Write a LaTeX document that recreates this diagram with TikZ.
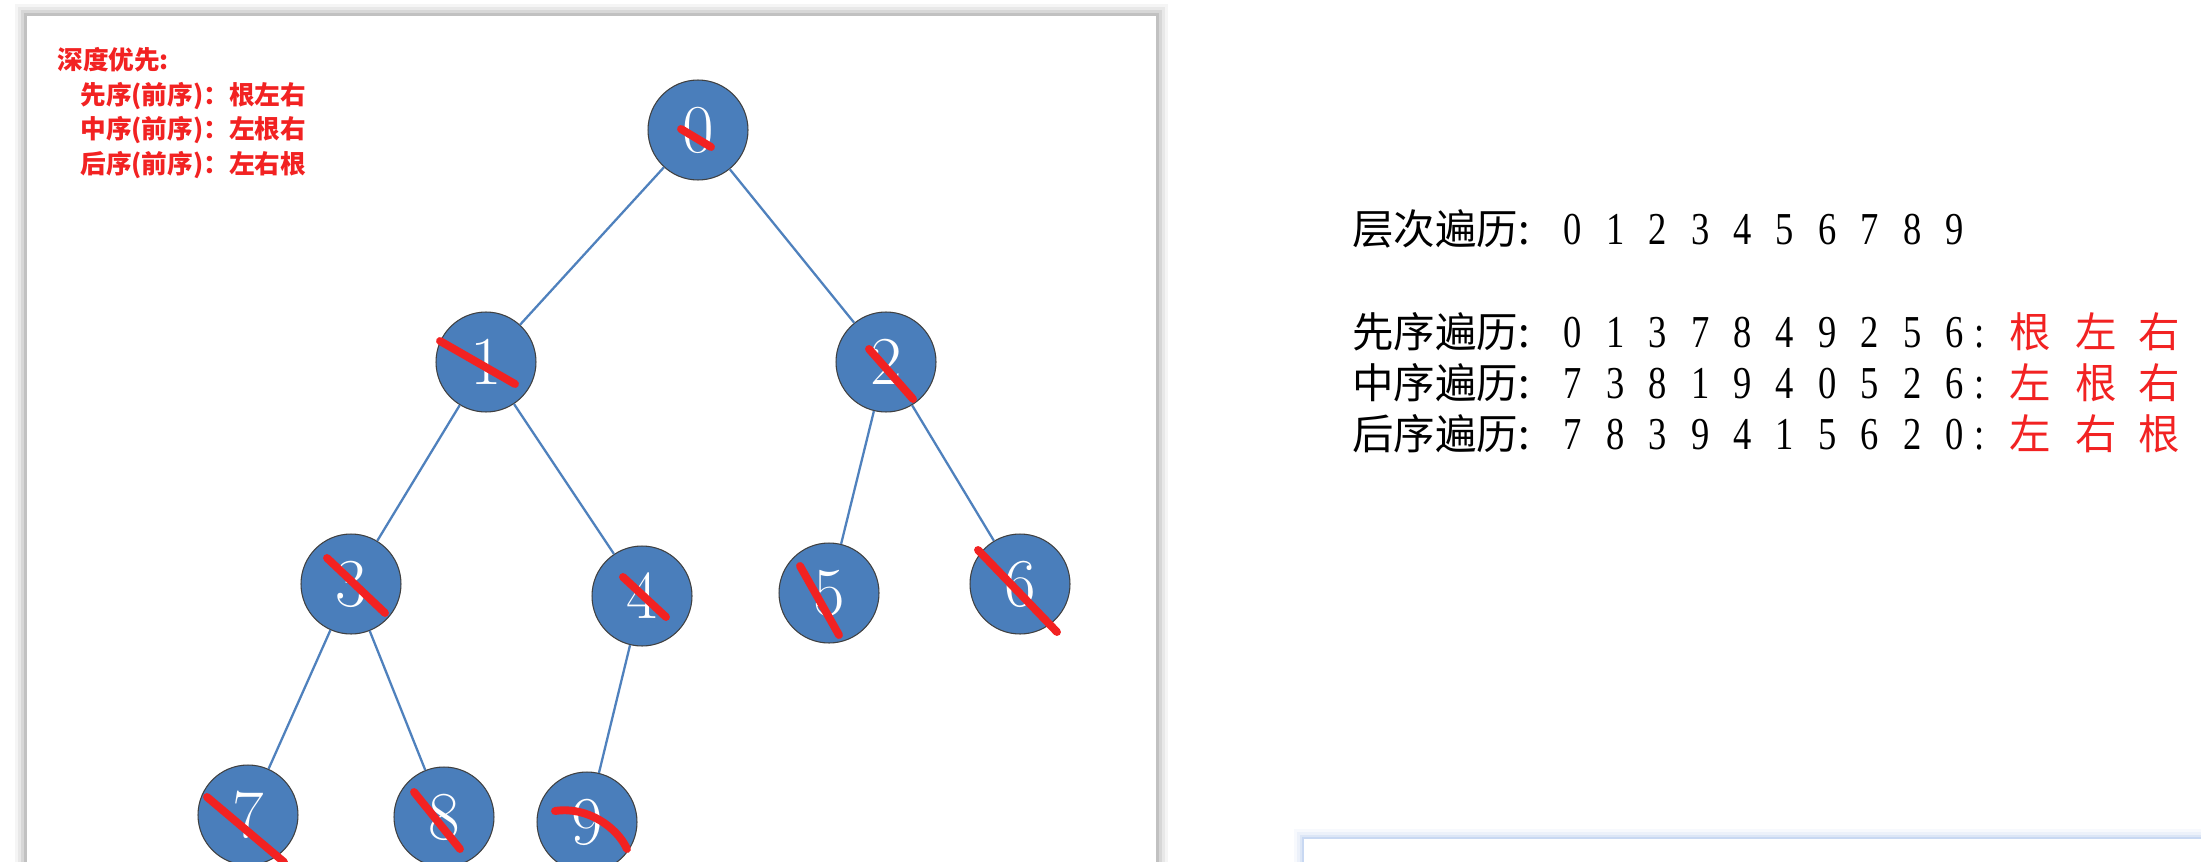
\documentclass[tikz,border=0pt]{standalone}
\usepackage{fontspec}
\newfontfamily\cjk{Noto Sans CJK SC}
\newfontfamily\digitfont[FakeStretch=0.8]{Liberation Serif}
\usetikzlibrary{calc}
\definecolor{nodeblue}{HTML}{4A7EBB}
\definecolor{edgeblue}{HTML}{4F81BD}
\definecolor{markred}{HTML}{F22222}
\definecolor{glowblue}{HTML}{6F9BE0}

\begin{document}
\begin{tikzpicture}[x=0.02cm, y=-0.02cm,
    vertex/.style={circle, draw=black!75, line width=0.6pt, fill=nodeblue, minimum size=2cm,
                   inner sep=0pt, text=white, font=\fontsize{39}{39}\selectfont},
    edge/.style={draw=edgeblue, line width=1.3pt},
    strike/.style={draw=markred, line width=4.5pt, line cap=round},
    note/.style={anchor=west, inner sep=0pt, text=markred, font=\cjk\bfseries\fontsize{14.6}{16}\selectfont},
    rowlabel/.style={anchor=base west, inner sep=0pt, font=\cjk\fontsize{23.6}{26}\selectfont},
    digit/.style={anchor=base, inner sep=0pt, font=\digitfont\fontsize{26}{28}\selectfont},
    order/.style={anchor=base, inner sep=0pt, text=markred, font=\cjk\fontsize{23.6}{26}\selectfont}]
  \clip (0,0) rectangle (2201,862);
  \fill[white] (0,0) rectangle (2201,862);

  % --- slide panel with soft shadow ---
  \foreach \d/\o in {12/0.04, 9/0.05, 6/0.07, 3/0.10}
    \fill[black, opacity=\o] (27-\d,16-\d) rectangle (1156+\d,880);
  \fill[white] (27,16) rectangle (1156,880);

  % --- box at bottom right ---
  \foreach \d/\o in {10/0.05, 7/0.08, 4/0.12, 2/0.18}
    \fill[glowblue, opacity=\o] (1304-\d,839-\d) rectangle (2230,880);
  \fill[white] (1304,839) rectangle (2230,880);

  % --- notes ---
  \node[note] (dfs)   at (57,60)  {深度优先:};
  \node[note] (preo)  at (80,96)  {先序(前序)：根左右};
  \node[note] (ino)   at (80,130) {中序(前序)：左根右};
  \node[note] (posto) at (80,165) {后序(前序)：左右根};

  % --- tree ---
  \node[vertex] (n0) at (698,130) {0};
  \node[vertex] (n1) at (486,362) {1};
  \node[vertex] (n2) at (886,362) {2};
  \node[vertex] (n3) at (351,584) {3};
  \node[vertex] (n4) at (642,596) {4};
  \node[vertex] (n5) at (829,593) {5};
  \node[vertex] (n6) at (1020,584) {6};
  \node[vertex] (n7) at (248,815) {7};
  \node[vertex] (n8) at (444,817) {8};
  \node[vertex] (n9) at (587,822) {9};

  \draw[edge] (n0) -- (n1);
  \draw[edge] (n0) -- (n2);
  \draw[edge] (n1) -- (n3);
  \draw[edge] (n1) -- (n4);
  \draw[edge] (n2) -- (n5);
  \draw[edge] (n2) -- (n6);
  \draw[edge] (n3) -- (n7);
  \draw[edge] (n3) -- (n8);
  \draw[edge] (n4) -- (n9);

  % --- red strike marks ---
  \draw[strike] ($(n0)+(-17,-1)$) -- ($(n0)+(13,17)$);
  \draw[strike] ($(n1)+(-46,-21)$) -- ($(n1)+(29,22)$);
  \draw[strike] ($(n2)+(-17,-13)$) -- ($(n2)+(27,37)$);
  \draw[strike] ($(n3)+(-24,-26)$) -- ($(n3)+(34,29)$);
  \draw[strike] ($(n4)+(-19,-19)$) -- ($(n4)+(24,21)$);
  \draw[strike] ($(n5)+(-29,-27)$) -- ($(n5)+(10,42)$);
  \draw[strike] ($(n6)+(-42,-34)$) -- ($(n6)+(37,48)$);
  \draw[strike] ($(n7)+(-41,-18)$) -- ($(n7)+(36,47)$);
  \draw[strike] ($(n8)+(-30,-25)$) -- ($(n8)+(16,32)$);
  \draw[strike] ($(n9)+(-32,-11)$) .. controls ($(n9)+(0,-16)$) and ($(n9)+(30,5)$) .. ($(n9)+(40,27)$);

  % --- traversal orders ---
  \node[rowlabel] (bfs) at (1352,244) {层次遍历:};
  \foreach \d [count=\i] in {0,1,2,3,4,5,6,7,8,9}
    \node[digit] (b\i) at ({1573+42.4*(\i-1)},244) {\d};

  \node[rowlabel] (pre) at (1352,347) {先序遍历:};
  \foreach \d [count=\i] in {0,1,3,7,8,4,9,2,5,6}
    \node[digit] (p\i) at ({1573+42.4*(\i-1)},347) {\d};
  \node[digit] (pc) at (1980,347) {:};
  \node[order] (pr1) at (2030,347) {根};
  \node[order] (pr2) at (2096,347) {左};
  \node[order] (pr3) at (2159,347) {右};

  \node[rowlabel] (mid) at (1352,398) {中序遍历:};
  \foreach \d [count=\i] in {7,3,8,1,9,4,0,5,2,6}
    \node[digit] (m\i) at ({1573+42.4*(\i-1)},398) {\d};
  \node[digit] (mc) at (1980,398) {:};
  \node[order] (mr1) at (2030,398) {左};
  \node[order] (mr2) at (2096,398) {根};
  \node[order] (mr3) at (2159,398) {右};

  \node[rowlabel] (post) at (1352,449) {后序遍历:};
  \foreach \d [count=\i] in {7,8,3,9,4,1,5,6,2,0}
    \node[digit] (s\i) at ({1573+42.4*(\i-1)},449) {\d};
  \node[digit] (sc) at (1980,449) {:};
  \node[order] (sr1) at (2030,449) {左};
  \node[order] (sr2) at (2096,449) {右};
  \node[order] (sr3) at (2159,449) {根};
\end{tikzpicture}
\end{document}
